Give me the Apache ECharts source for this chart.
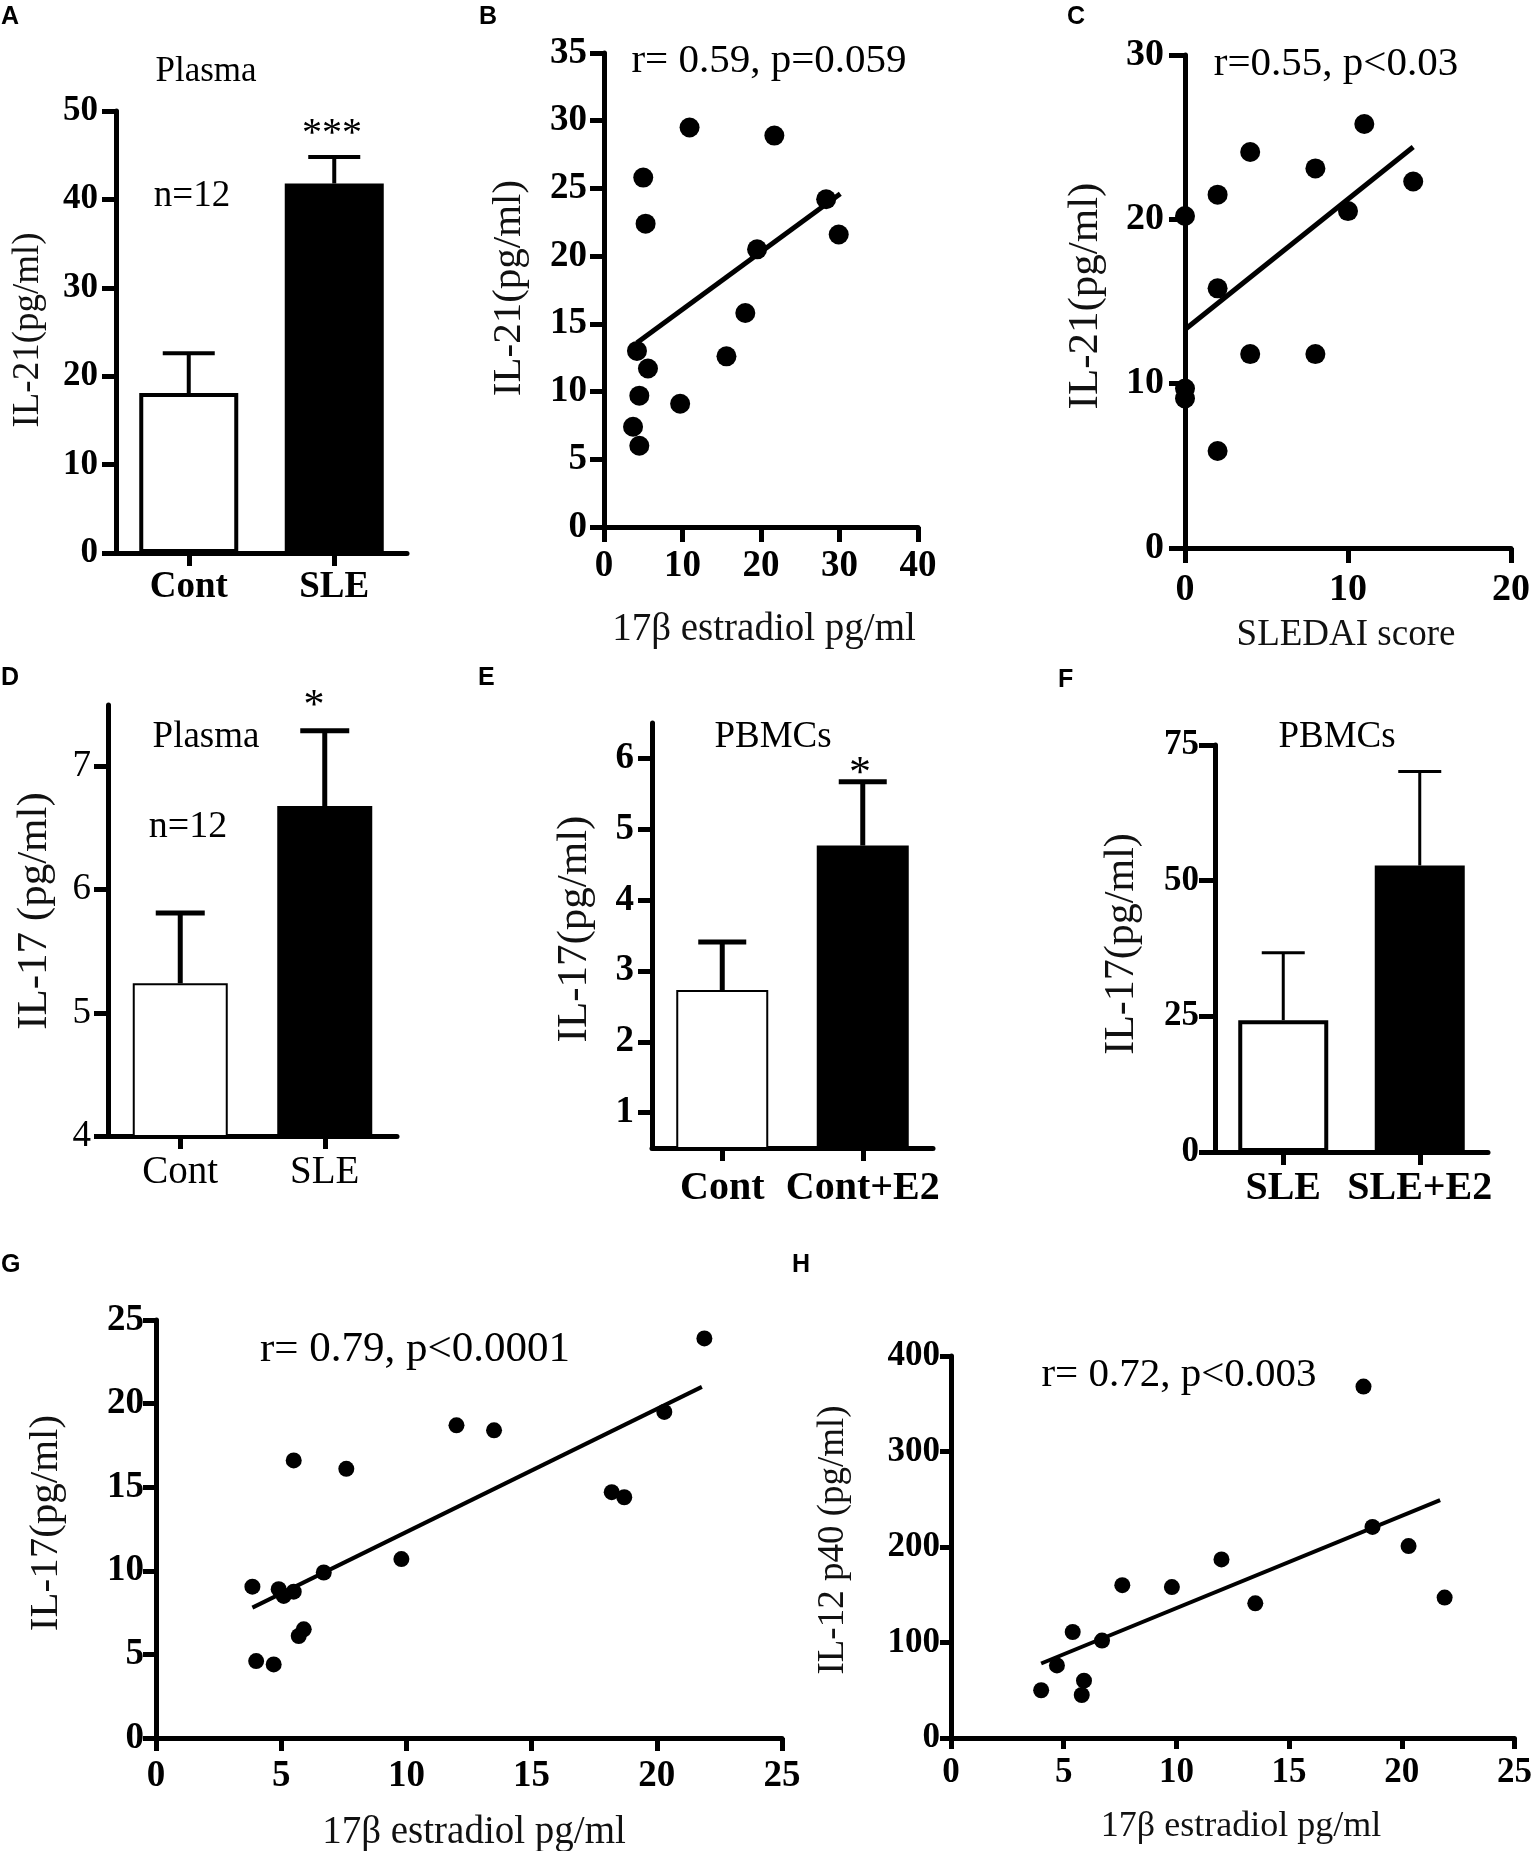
<!DOCTYPE html>
<html>
<head>
<meta charset="utf-8">
<script src="https://cdn.jsdelivr.net/npm/echarts@6.0.0/dist/echarts.min.js"></script>
<style>html,body{margin:0;padding:0;background:#fff;}#c{width:1535px;height:1851px;}</style>
</head>
<body>
<div id="c"></div>
<script>
// ---------- DATA ----------
const catsA = ['Cont', 'SLE'];
const meanA = [18.1, 41.8];
const semA = [4.5, 3.0];

const scatterB = [[10.9,29.5],[21.7,28.9],[5.0,25.8],[5.3,22.4],[28.3,24.2],[29.9,21.6],[19.5,20.5],[18.0,15.8],[15.6,12.6],[4.2,13.0],[5.6,11.7],[4.5,9.7],[9.7,9.1],[3.7,7.4],[4.5,6.0]];
const trendB = [[4.2,13.6],[30.1,24.6]];

const scatterC = [[11,25.8],[4,24.1],[8,23.1],[14,22.3],[2,21.5],[0,20.2],[10,20.5],[2,15.8],[4,11.8],[8,11.8],[0,9.7],[0,9.1],[2,5.9]];
const trendC = [[0,13.3],[14,24.4]];

const catsD = ['Cont', 'SLE'];
const meanD = [5.24, 6.68];
const semD = [0.57, 0.61];

const catsE = ['Cont', 'Cont+E2'];
const meanE = [2.73, 4.77];
const semE = [0.68, 0.90];

const catsF = ['SLE', 'SLE+E2'];
const meanF = [24.3, 52.8];
const semF = [12.4, 17.3];

const scatterG = [[21.9,23.9],[20.3,19.5],[12.0,18.7],[13.5,18.4],[5.5,16.6],[7.6,16.1],[18.2,14.7],[18.7,14.4],[9.8,10.7],[6.7,9.9],[3.85,9.05],[4.9,8.9],[5.5,8.75],[5.1,8.5],[5.9,6.5],[5.7,6.1],[4.0,4.6],[4.7,4.4]];
const trendG = [[3.85,7.8],[21.8,21.0]];

const scatterH = [[18.3,368],[18.7,221],[20.3,201],[12.0,187],[21.9,147],[7.6,160],[9.8,158],[13.5,141],[5.4,111],[6.7,102],[4.7,76],[5.9,60],[4.0,50],[5.8,45]];
const trendH = [[4.0,78],[21.7,249]];

const ticksD = [4, 5, 6, 7];
const ticksE = [1, 2, 3, 4, 5, 6];

// ---------- STYLE HELPERS ----------
const SERIF = '"Liberation Serif", "Times New Roman", serif';
const SANS = '"Liberation Sans", Arial, sans-serif';
const BARCOL = ['#ffffff', '#000000'];

const grids = [], xAxes = [], yAxes = [], series = [], graphics = [];

function axisBase(lw, tickLen, fs, fw, margin) {
  return {
    axisLine: { show: true, onZero: false, lineStyle: { color: '#000', width: lw } },
    axisTick: { show: true, length: tickLen, lineStyle: { color: '#000', width: lw } },
    axisLabel: { color: '#000', fontFamily: SERIF, fontSize: fs, fontWeight: fw, margin: margin, hideOverlap: false },
    splitLine: { show: false }
  };
}

function addBarPanel(g, cats, means, sems, o) {
  const idx = grids.length;
  grids.push({ left: g[0], top: g[1], width: g[2], height: g[3], containLabel: false });
  const xa = axisBase(5, o.xTick, o.xfs, o.xfw, o.xMargin);
  xa.type = 'category'; xa.data = cats; xa.gridIndex = idx;
  xa.axisTick.alignWithLabel = true;
  xa.axisTick.interval = 0;
  xa.axisLabel.interval = 0;
  xAxes.push(xa);
  const ya = axisBase(5, o.yTick, o.yfs, o.yfw, o.yMargin);
  ya.type = 'value'; ya.gridIndex = idx; ya.min = o.min; ya.max = o.max;
  if (o.interval) ya.interval = o.interval;
  if (o.custom) { ya.axisLabel.customValues = o.custom; ya.axisTick.customValues = o.custom; }
  yAxes.push(ya);
  series.push({
    type: 'bar', xAxisIndex: idx, yAxisIndex: idx, barWidth: o.barW, clip: true,
    data: means.map((v, i) => ({ value: v, itemStyle: { color: BARCOL[i], borderColor: '#000', borderWidth: o.bw, opacity: 1 } })),
    z: 2
  });
  const capW = o.cap, lw = o.elw;
  series.push({
    type: 'custom', xAxisIndex: idx, yAxisIndex: idx, clip: false, z: 3,
    data: means.map((v, i) => [i, v, v + sems[i]]),
    encode: { x: 0, y: [1, 2] },
    renderItem: function (params, api) {
      const i = api.value(0);
      const p0 = api.coord([i, api.value(1)]);
      const p1 = api.coord([i, api.value(2)]);
      return { type: 'group', children: [
        { type: 'line', shape: { x1: p0[0], y1: p0[1], x2: p1[0], y2: p1[1] }, style: { stroke: '#000', lineWidth: lw } },
        { type: 'line', shape: { x1: p1[0] - capW / 2, y1: p1[1], x2: p1[0] + capW / 2, y2: p1[1] }, style: { stroke: '#000', lineWidth: lw } }
      ] };
    }
  });
}

function addScatterPanel(g, pts, trend, o) {
  const idx = grids.length;
  grids.push({ left: g[0], top: g[1], width: g[2], height: g[3], containLabel: false });
  const xa = axisBase(5, o.xTick, o.xfs, 'bold', o.xMargin);
  xa.type = 'value'; xa.gridIndex = idx; xa.min = 0; xa.max = o.xmax; xa.interval = o.xint;
  xAxes.push(xa);
  const ya = axisBase(5, o.yTick, o.yfs, 'bold', o.yMargin);
  ya.type = 'value'; ya.gridIndex = idx; ya.min = 0; ya.max = o.ymax; ya.interval = o.yint;
  yAxes.push(ya);
  series.push({
    type: 'scatter', xAxisIndex: idx, yAxisIndex: idx, symbol: 'circle', symbolSize: o.sym,
    itemStyle: { color: '#000', opacity: 1 }, data: pts, z: 3, clip: false
  });
  series.push({
    type: 'line', xAxisIndex: idx, yAxisIndex: idx, data: trend, showSymbol: false, symbol: 'none',
    lineStyle: { color: '#000', width: o.tlw, opacity: 1 }, z: 4, clip: false
  });
}

function txt(s, x, y, fs, opt) {
  opt = opt || {};
  graphics.push({
    type: 'text', x: x, y: y, rotation: opt.rot || 0, z: 10,
    style: {
      text: s, fontFamily: opt.family || SERIF, fontSize: fs, fontWeight: opt.fw || 'normal',
      fill: opt.color || '#000', textAlign: opt.align || 'center', textVerticalAlign: 'middle'
    }
  });
}

// ---------- PANELS ----------
// A
addBarPanel([116, 111, 291, 442], catsA, meanA, semA,
  { min: 0, max: 50, interval: 10, barW: 99, bw: 4, cap: 52, elw: 4,
    xTick: 13, xfs: 37, xfw: 'bold', xMargin: 16, yTick: 14, yfs: 35, yfw: 'bold', yMargin: 18 });
// B
addScatterPanel([604, 53, 314, 474], scatterB, trendB,
  { xmax: 40, xint: 10, ymax: 35, yint: 5, sym: 20, tlw: 5,
    xTick: 15, xfs: 37, xMargin: 21, yTick: 14, yfs: 37, yMargin: 17 });
// C
addScatterPanel([1185, 55, 326, 493], scatterC, trendC,
  { xmax: 20, xint: 10, ymax: 30, yint: 10, sym: 20, tlw: 5,
    xTick: 15, xfs: 38, xMargin: 23, yTick: 16, yfs: 38, yMargin: 21 });
// D
addBarPanel([108, 705, 289, 431], catsD, meanD, semD,
  { min: 4, max: 7.5, custom: ticksD, barW: 95, bw: 2, cap: 49, elw: 5,
    xTick: 13, xfs: 39, xfw: 'normal', xMargin: 17, yTick: 14, yfs: 37, yfw: 'normal', yMargin: 17 });
// E
addBarPanel([652, 723, 281, 425], catsE, meanE, semE,
  { min: 0.5, max: 6.5, custom: ticksE, barW: 92, bw: 2, cap: 48, elw: 5,
    xTick: 13, xfs: 40, xfw: 'bold', xMargin: 21, yTick: 14, yfs: 37, yfw: 'bold', yMargin: 18 });
// F
addBarPanel([1215, 745, 273, 407], catsF, meanF, semF,
  { min: 0, max: 75, interval: 25, barW: 90, bw: 4, cap: 43, elw: 3,
    xTick: 13, xfs: 40, xfw: 'bold', xMargin: 17, yTick: 16, yfs: 35, yfw: 'bold', yMargin: 16 });
// G
addScatterPanel([156, 1320, 626, 418], scatterG, trendG,
  { xmax: 25, xint: 5, ymax: 25, yint: 5, sym: 16, tlw: 4,
    xTick: 13, xfs: 37, xMargin: 20, yTick: 13, yfs: 37, yMargin: 12 });
// H
addScatterPanel([951, 1356, 567, 382], scatterH, trendH,
  { xmax: 25, xint: 5, ymax: 400, yint: 100, sym: 16, tlw: 4,
    xTick: 11, xfs: 35, xMargin: 17, yTick: 11, yfs: 35, yMargin: 11 });

// ---------- TEXT ----------
// panel letters
[['A',1,17],['B',479,17],['C',1067,17],['D',1,678],['E',478,678],['F',1058,680],['G',1,1265],['H',792,1265]]
  .forEach(l => txt(l[0], l[1], l[2], 25, { family: SANS, fw: 'bold', align: 'left' }));

// y-axis titles
const R = Math.PI / 2, YT = '#111';
txt('IL-21(pg/ml)', 28, 330, 37, { rot: R, color: YT });
txt('IL-21(pg/ml)', 509, 288, 41, { rot: R, color: YT });
txt('IL-21(pg/ml)', 1086, 296, 43, { rot: R, color: YT });
txt('IL-17 (pg/ml)', 35, 911, 43, { rot: R, color: YT });
txt('IL-17(pg/ml)', 575, 929, 43, { rot: R, color: YT });
txt('IL-17(pg/ml)', 1122, 944, 42, { rot: R, color: YT });
txt('IL-17(pg/ml)', 46, 1523, 41, { rot: R, color: YT });
txt('IL-12 p40 (pg/ml)', 833, 1540, 37, { rot: R, color: YT });

// x-axis titles
txt('17β estradiol pg/ml', 764, 630, 39, { color: YT });
txt('SLEDAI score', 1346, 635, 37, { color: YT });
txt('17β estradiol pg/ml', 474, 1833, 39, { color: YT });
txt('17β estradiol pg/ml', 1241, 1827, 36, { color: YT });

// annotations
txt('Plasma', 206, 72, 35);
txt('n=12', 192, 196, 37);
txt('***', 332, 134, 40);
txt('r= 0.59, p=0.059', 769, 61, 41);
txt('r=0.55, p<0.03', 1336, 64, 41);
txt('*', 314, 707, 42);
txt('Plasma', 206, 737, 37);
txt('n=12', 188, 827, 38);
txt('PBMCs', 773, 737, 37);
txt('*', 860, 774, 44);
txt('PBMCs', 1337, 737, 37);
txt('r= 0.79, p<0.0001', 415, 1350, 43);
txt('r= 0.72, p<0.003', 1179, 1375, 41);

// ---------- CHART ----------
const chart = echarts.init(document.getElementById('c'), null, { renderer: 'canvas' });
chart.setOption({
  backgroundColor: '#fff',
  animation: false,
  grid: grids,
  xAxis: xAxes,
  yAxis: yAxes,
  series: series,
  graphic: graphics
});
</script>
</body>
</html>
